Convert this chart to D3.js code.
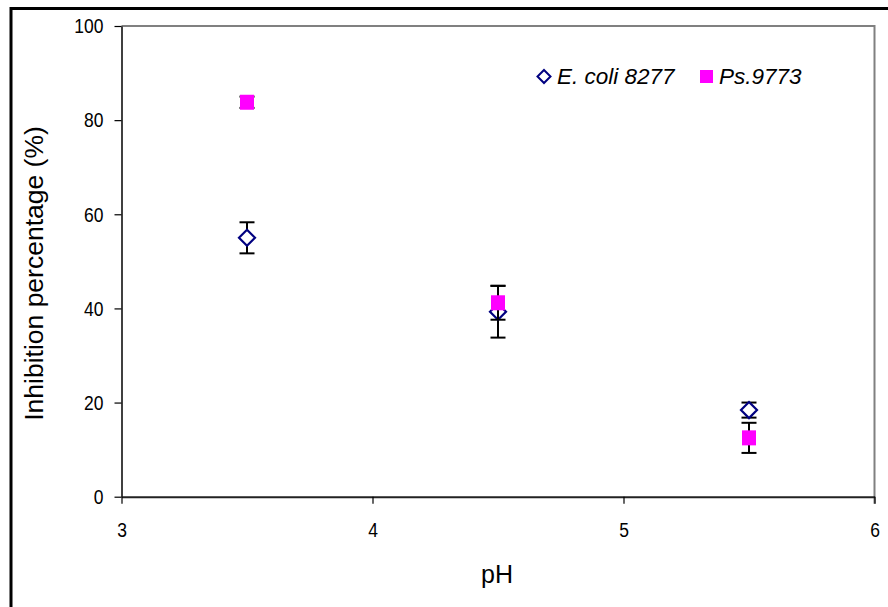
<!DOCTYPE html>
<html>
<head>
<meta charset="utf-8">
<script src="https://cdn.jsdelivr.net/npm/d3@7"></script>
<style>
  html, body { margin: 0; padding: 0; background: #fff; }
  svg { display: block; font-family: Arial, "Liberation Sans", sans-serif; }
</style>
</head>
<body>
<svg id="chart" width="888" height="607"></svg>
<script>
// pH values tested
const phValues = [3.5, 4.5, 5.5];
// Inhibition percentage (%) and standard deviation for each strain
const ecoliMeans = [55.0, 39.3, 18.4];
const ecoliErrors = [3.3, 5.5, 1.6];
const psMeans = [83.8, 41.2, 12.5];
const psErrors = [1.2, 3.6, 3.2];
// Axis ticks
const xTicks = [3, 4, 5, 6];
const yTicks = [0, 20, 40, 60, 80, 100];

const svg = d3.select("#chart");
const margin = { left: 121.5, top: 26, right: 874.5, bottom: 496.7 };

const x = d3.scaleLinear().domain([3, 6]).range([margin.left, margin.right]);
const y = d3.scaleLinear().domain([0, 100]).range([margin.bottom, margin.top]);

// tick labels are slightly taller than wide
const tickStretch = 1.2;

// outer frame
svg.append("rect")
  .attr("x", 11).attr("y", 8.5)
  .attr("width", 900).attr("height", 700)
  .attr("fill", "none").attr("stroke", "#000").attr("stroke-width", 3);

// plot area border (top and right)
svg.append("path")
  .attr("d", `M${margin.left},${margin.top}H${margin.right}V${margin.bottom + 7}`)
  .attr("fill", "none").attr("stroke", "#808080").attr("stroke-width", 2);

// y axis
const yAxis = svg.append("g")
  .attr("transform", `translate(${margin.left},0)`)
  .call(d3.axisLeft(y).tickValues(yTicks).tickFormat(d3.format("d"))
    .tickSize(7).tickSizeOuter(0).tickPadding(11));
yAxis.select(".domain").attr("stroke", "#000").attr("stroke-width", 1.5);
yAxis.selectAll(".tick line").attr("stroke", "#000").attr("stroke-width", 1.2);
yAxis.selectAll(".tick text").attr("font-size", 17.5).attr("fill", "#000")
  .attr("font-family", "Arial, 'Liberation Sans', sans-serif")
  .attr("transform", `scale(1,${tickStretch})`);

// x axis
const xAxis = svg.append("g")
  .attr("transform", `translate(0,${margin.bottom})`)
  .call(d3.axisBottom(x).tickValues(xTicks).tickFormat(d3.format("d"))
    .tickSize(7).tickSizeOuter(0).tickPadding(15));
xAxis.select(".domain").attr("stroke", "#222").attr("stroke-width", 2);
xAxis.selectAll(".tick line").attr("stroke", "#000").attr("stroke-width", 1.2);
xAxis.selectAll(".tick text").attr("font-size", 17.5).attr("fill", "#000")
  .attr("font-family", "Arial, 'Liberation Sans', sans-serif")
  .attr("dy", 0).attr("y", 40.5 / tickStretch)
  .attr("transform", `scale(1,${tickStretch})`);

// axis titles
svg.append("text")
  .attr("x", 497).attr("y", 583)
  .attr("text-anchor", "middle")
  .attr("font-size", 25)
  .text("pH");

svg.append("text")
  .attr("transform", `translate(43,273.5) rotate(-90)`)
  .attr("text-anchor", "middle")
  .attr("font-size", 26.5)
  .text("Inhibition percentage (%)");

// error bars and markers
function errorBars(means, errors) {
  const g = svg.append("g").attr("stroke", "#000").attr("stroke-width", 2);
  phValues.forEach((p, i) => {
    const cx = x(p);
    const yt = y(means[i] + errors[i]);
    const yb = y(means[i] - errors[i]);
    g.append("line").attr("x1", cx).attr("x2", cx).attr("y1", yt).attr("y2", yb);
    g.append("line").attr("x1", cx - 7.5).attr("x2", cx + 7.5).attr("y1", yt).attr("y2", yt);
    g.append("line").attr("x1", cx - 7.5).attr("x2", cx + 7.5).attr("y1", yb).attr("y2", yb);
  });
}

const diamond = (cx, cy, r) => `M${cx},${cy - r}L${cx + r},${cy}L${cx},${cy + r}L${cx - r},${cy}Z`;

errorBars(ecoliMeans, ecoliErrors);
svg.append("g").selectAll("path")
  .data(phValues)
  .join("path")
  .attr("d", (p, i) => diamond(x(p), y(ecoliMeans[i]), 8))
  .attr("fill", "#fff").attr("stroke", "#000080").attr("stroke-width", 2.2);

errorBars(psMeans, psErrors);
svg.append("g").selectAll("rect")
  .data(phValues)
  .join("rect")
  .attr("x", p => x(p) - 7).attr("y", (p, i) => y(psMeans[i]) - 7.5)
  .attr("width", 14).attr("height", 15)
  .attr("fill", "#ff00ff");

// legend
const legend = svg.append("g");
legend.append("path").attr("d", diamond(544, 76.5, 6.5))
  .attr("fill", "#fff").attr("stroke", "#000080").attr("stroke-width", 2);
legend.append("text").attr("x", 557).attr("y", 84)
  .attr("font-size", 22.5).attr("font-style", "italic").text("E. coli 8277");
legend.append("rect").attr("x", 700).attr("y", 70).attr("width", 13).attr("height", 13)
  .attr("fill", "#ff00ff");
legend.append("text").attr("x", 719).attr("y", 84)
  .attr("font-size", 22.5).attr("font-style", "italic").text("Ps.9773");
</script>
</body>
</html>
